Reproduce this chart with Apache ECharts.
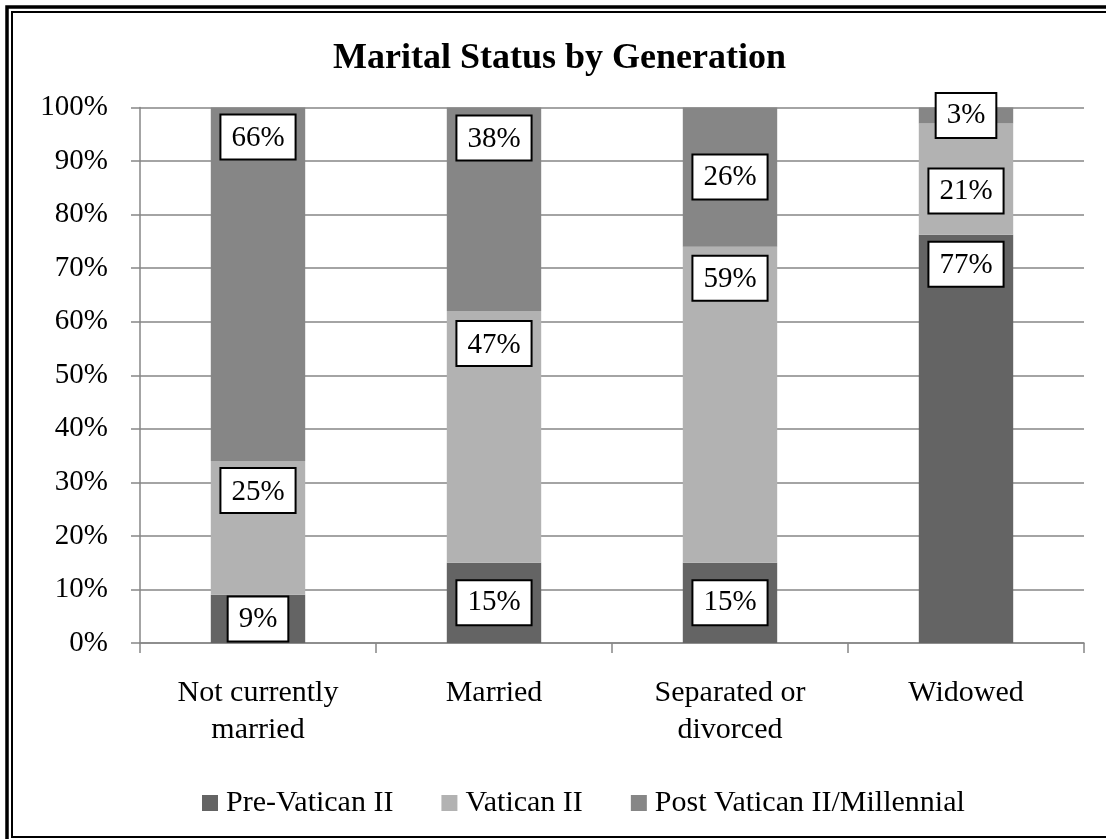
<!DOCTYPE html>
<html>
<head>
<meta charset="utf-8">
<script src="https://cdn.jsdelivr.net/npm/echarts@6/dist/echarts.min.js"></script>
<style>
  html, body { margin: 0; padding: 0; background: #fff; }
  #main { width: 1106px; height: 839px; }
</style>
</head>
<body>
<div id="main"></div>
<script>
// data (percent of each marital status group)
var categories = ['Not currently\nmarried', 'Married', 'Separated or\ndivorced', 'Widowed'];
var seriesNames = ['Pre-Vatican II', 'Vatican II', 'Post Vatican II/Millennial'];
var preVatican = [9, 15, 15, 77];
var vatican = [25, 47, 59, 21];
var postVatican = [66, 38, 26, 3];
var yTicks = [0, 10, 20, 30, 40, 50, 60, 70, 80, 90, 100];

var colors = ['#646464', '#b2b2b2', '#868686'];
var FONT = '"Liberation Serif", "Times New Roman", serif';

// label placement per bar (the original labels were nudged by hand)
var labelPlace = [
    [{ position: 'inside' }, { position: 'insideTop', distance: 8 }, { position: 'insideTop', distance: 8 }],
    [{ position: 'inside' }, { position: 'insideTop', distance: 11 }, { position: 'insideTop', distance: 9 }],
    [{ position: 'inside' }, { position: 'insideTop', distance: 10 }, { position: 'inside' }],
    [{ position: 'insideTop', distance: 8 }, { position: 'inside', offset: [0, 12] }, { position: 'inside' }]
];

var raw = [preVatican, vatican, postVatican];
var totals = categories.map(function (c, i) {
    return preVatican[i] + vatican[i] + postVatican[i];
});

var labelBase = {
    show: true,
    color: '#000',
    fontFamily: FONT,
    fontSize: 29,
    lineHeight: 32,
    backgroundColor: '#fff',
    borderColor: '#000',
    borderWidth: 2,
    padding: [7, 10, 4, 10]
};

var series = raw.map(function (vals, s) {
    return {
        name: seriesNames[s],
        type: 'bar',
        stack: 'total',
        barWidth: '40%',
        itemStyle: { color: colors[s] },
        data: vals.map(function (v, i) {
            var lab = Object.assign({}, labelBase, labelPlace[i][s], {
                formatter: v + '%'
            });
            return { value: v / totals[i] * 100, label: lab };
        })
    };
});

var myChart = echarts.init(document.getElementById('main'));

var option = {
    backgroundColor: '#fff',
    animation: false,
    title: {
        text: 'Marital Status by Generation',
        left: 328,
        top: 36,
        textStyle: {
            fontFamily: FONT,
            fontWeight: 'bold',
            fontSize: 36,
            color: '#000'
        }
    },
    legend: {
        data: seriesNames,
        top: 783,
        left: 197,
        icon: 'rect',
        itemWidth: 16,
        itemHeight: 16,
        itemGap: 48,
        textStyle: { fontFamily: FONT, fontSize: 30, color: '#000', padding: [0, 0, 0, 3] }
    },
    grid: {
        left: 140,
        right: 22,
        top: 107.5,
        bottom: 196
    },
    xAxis: {
        type: 'category',
        data: categories,
        axisLine: { lineStyle: { color: '#868686', width: 1.5 } },
        axisTick: { show: true, length: 10, lineStyle: { color: '#868686', width: 1.5 } },
        axisLabel: {
            color: '#000',
            fontFamily: FONT,
            fontSize: 30,
            lineHeight: 37,
            margin: 32,
            interval: 0
        }
    },
    yAxis: {
        type: 'value',
        min: yTicks[0],
        max: yTicks[yTicks.length - 1],
        interval: 10,
        axisLine: { show: true, lineStyle: { color: '#868686', width: 1.5 } },
        axisTick: { show: true, length: 9, lineStyle: { color: '#868686', width: 1.5 } },
        splitLine: { lineStyle: { color: '#868686', width: 1.5 } },
        axisLabel: {
            color: '#000',
            fontFamily: FONT,
            fontSize: 29,
            margin: 32,
            formatter: '{value}%'
        }
    },
    graphic: [
        {
            type: 'rect',
            shape: { x: 7, y: 7, width: 1200, height: 1000 },
            style: { fill: 'none', stroke: '#000', lineWidth: 3.5 },
            silent: true
        },
        {
            type: 'rect',
            shape: { x: 12, y: 12, width: 1200, height: 825 },
            style: { fill: 'none', stroke: '#000', lineWidth: 2 },
            silent: true
        }
    ],
    series: series
};

myChart.setOption(option);
</script>
</body>
</html>
